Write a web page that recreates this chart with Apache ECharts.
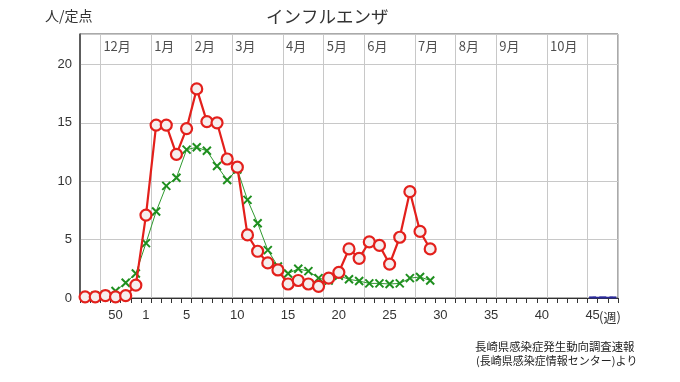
<!DOCTYPE html>
<html><head><meta charset="utf-8">
<script src="https://cdn.jsdelivr.net/npm/echarts@6/dist/echarts.min.js"></script>
<style>html,body{margin:0;padding:0;background:#fff}#c{width:680px;height:382px}</style>
</head><body><div id="c"></div>
<script>
// categories: surveillance weeks (47 of previous year .. 47)
const weeks = [47,48,49,50,51,52,1,2,3,4,5,6,7,8,9,10,11,12,13,14,15,16,17,18,19,20,21,22,23,24,25,26,27,28,29,30,31,32,33,34,35,36,37,38,39,40,41,42,43,44,45,46,47];
// red: this season (per sentinel)
const seasonRed = [0.1,0.1,0.2,0.1,0.2,1.1,7.1,14.8,14.8,12.3,14.5,17.9,15.1,15.0,11.9,11.2,5.4,4.0,3.0,2.4,1.2,1.5,1.2,1.0,1.7,2.2,4.2,3.4,4.8,4.5,2.9,5.2,9.1,5.7,4.2,
  null,null,null,null,null,null,null,null,null,null,null,null,null,null,null,null,null,null];
// green: comparison season
const seasonGreen = [0.1,0.2,0.3,0.6,1.3,2.1,4.7,7.4,9.6,10.3,12.7,12.9,12.6,11.3,10.1,11.0,8.4,6.4,4.1,2.7,2.1,2.5,2.3,1.7,1.5,1.9,1.6,1.45,1.25,1.25,1.2,1.25,1.7,1.8,1.5,
  null,null,null,null,null,null,null,null,null,null,null,null,null,null,null,null,null,null];
// blue: next season start
const seasonBlue = [null,null,null,null,null,null,null,null,null,null,null,null,null,null,null,null,null,null,null,null,null,null,null,null,null,null,null,null,null,null,null,null,null,null,null,null,null,null,null,null,null,null,null,null,null,null,null,null,null,null,0.05,0.05,0.05];
// tick labels
const labelWeeks = [50,1,5,10,15,20,25,30,35,40,45];
const monthNames = ['12月','1月','2月','3月','4月','5月','6月','7月','8月','9月','10月'];
const monthStartIdx = [2,7,11,15,20,24,28,33,37,41,46,50];
const yMax = 22.6;
const yStep = 5;

const numFont = "'Liberation Sans Narrow','Liberation Sans',sans-serif";
const jpFont = "'Noto Sans CJK JP',sans-serif";

const chart = echarts.init(document.getElementById('c'), null, {renderer:'canvas'});
const labelIdx = new Set(weeks.map((w,i)=> (labelWeeks.indexOf(w)>=0 && i>0 && i<weeks.length-1) ? i : -1));
const xMark = 'path://M0,0L10,10M10,0L0,10';

chart.setOption({
  animation:false,
  backgroundColor:'#fff',
  grid:{left:80, right:62, top:34, bottom:84, show:true, borderColor:'#555', borderWidth:1},
  xAxis:{
    type:'category', data:weeks.map(String), boundaryGap:true,
    axisLine:{lineStyle:{color:'#333', width:1}},
    axisTick:{show:true, interval:0, length:5, lineStyle:{color:'#333'}},
    axisLabel:{interval:(i)=>labelIdx.has(i), color:'#333', fontSize:13, margin:11, fontFamily:numFont},
    splitLine:{show:true, interval:(i)=>monthStartIdx.indexOf(i)>=0, lineStyle:{color:'#c8c8c8', width:1}}
  },
  yAxis:{
    type:'value', min:0, max:yMax, interval:yStep,
    axisLine:{show:true, lineStyle:{color:'#444', width:1.5}},
    axisTick:{show:false},
    axisLabel:{margin:8, color:'#333', fontSize:13, fontFamily:numFont, showMaxLabel:false},
    splitLine:{lineStyle:{color:'#c8c8c8', width:1}}
  },
  series:[
    {type:'line', data:seasonGreen, clip:false, z:3, showAllSymbol:true,
     lineStyle:{color:'#2f9a2f', width:1},
     symbol:xMark, symbolSize:8,
     itemStyle:{color:'#1f8f1f', borderColor:'#1f8f1f', borderWidth:2}},
    {type:'line', data:seasonRed, clip:false, z:4, showAllSymbol:true,
     lineStyle:{color:'#e3201c', width:2.2},
     symbol:'circle', symbolSize:11,
     itemStyle:{color:'#f6eeee', borderColor:'#e3201c', borderWidth:2.2}},
    {type:'line', data:seasonBlue, clip:false, z:5, showAllSymbol:true,
     lineStyle:{color:'#2a2a9a', width:1.5},
     symbol:'rect', symbolSize:[7,2],
     itemStyle:{color:'#2a2a9a'}},
    {type:'scatter', silent:true, z:6, symbolSize:0,
     data:monthNames.map((m,k)=>({name:m, value:[monthStartIdx[k], 21.6]})),
     label:{show:true, formatter:'{b}', position:[-2,0], align:'left', verticalAlign:'middle',
            color:'#222', fontSize:13, fontFamily:jpFont}}
  ],
  graphic:[
    {type:'text', left:45, top:9, style:{text:'人/定点', fontSize:14, fontFamily:jpFont, fill:'#333'}},
    {type:'text', left:266, top:8, style:{text:'インフルエンザ', fontSize:17.5, fontFamily:jpFont, fill:'#333'}},
    {type:'text', left:599, top:311, style:{text:'(週)', fontSize:13, fontFamily:jpFont, fill:'#333'}},
    {type:'text', left:475, top:341, style:{text:'長崎県感染症発生動向調査速報', fontSize:11.4, fontFamily:jpFont, fill:'#222'}},
    {type:'text', left:476, top:355, style:{text:'(長崎県感染症情報センター)より', fontSize:11, fontFamily:jpFont, fill:'#222'}}
  ]
});
</script></body></html>
